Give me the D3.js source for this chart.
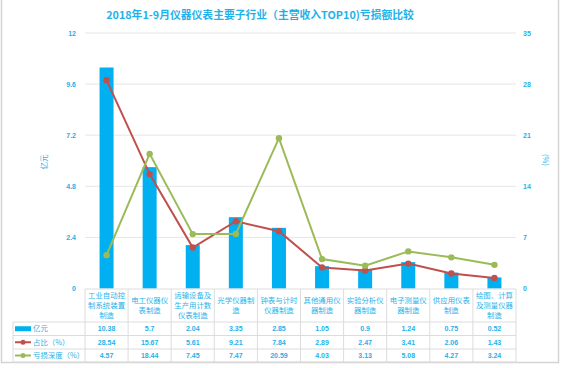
<!DOCTYPE html>
<html><head><meta charset="utf-8">
<script src="https://cdn.jsdelivr.net/npm/d3@7/dist/d3.min.js"></script>
<style>body{margin:0;background:#fff;}svg{display:block;font-family:"Noto Sans CJK SC","Noto Sans",sans-serif;}</style>
</head><body><svg id="c" width="562" height="368"></svg>
<script>
const title = "2018年1-9月仪器仪表主要子行业（主营收入TOP10)亏损额比较";
const categories = [
  ["工业自动控","制系统装置","制造"],
  ["电工仪器仪","表制造"],
  ["运输设备及","生产用计数","仪表制造"],
  ["光学仪器制","造"],
  ["钟表与计时","仪器制造"],
  ["其他通用仪","器制造"],
  ["实验分析仪","器制造"],
  ["电子测量仪","器制造"],
  ["供应用仪表","制造"],
  ["绘图、计算","及测量仪器","制造"]
];
const amount = [10.38, 5.7, 2.04, 3.35, 2.85, 1.05, 0.9, 1.24, 0.75, 0.52];
const share = [28.54, 15.67, 5.61, 9.21, 7.84, 2.89, 2.47, 3.41, 2.06, 1.43];
const depth = [4.57, 18.44, 7.45, 7.47, 20.59, 4.03, 3.13, 5.08, 4.27, 3.24];
const leftTicks = [0, 2.4, 4.8, 7.2, 9.6, 12];
const rightTicks = [0, 7, 14, 21, 28, 35];
const seriesNames = ["亿元", "占比（%）", "亏损深度（%）"];

const svg = d3.select("#c");
const blue = "#00b0f0", red = "#c0504d", green = "#9bbb59", txt = "#1fb2ea", grid = "#e6e6e6";

// frame
svg.append("rect").attr("x",1.5).attr("y",-4).attr("width",557).attr("height",366.5)
  .attr("fill","none").attr("stroke","#d4d4d4").attr("stroke-width",1.5);

const L = 85, R = 516, T = 33, B = 288.5;
const x = d3.scaleBand().domain(d3.range(categories.length)).range([L, R]);
const yL = d3.scaleLinear().domain([0, 12]).range([B, T]);
const yR = d3.scaleLinear().domain([0, 35]).range([B, T]);

svg.append("text").attr("x", 260).attr("y", 19).attr("text-anchor","middle")
  .attr("font-size", 10.8).attr("font-weight","bold").attr("fill", txt).text(title);

// grid
svg.append("g").selectAll("line").data(leftTicks.filter(d=>d>0)).join("line")
  .attr("x1", L).attr("x2", R).attr("y1", d=>yL(d)).attr("y2", d=>yL(d))
  .attr("stroke", grid).attr("stroke-width",1);

// axes
const axL = svg.append("g").attr("transform", `translate(${L-6},0)`)
  .call(d3.axisLeft(yL).tickValues(leftTicks).tickSize(0).tickPadding(3).tickFormat(d=>d));
axL.select(".domain").remove();
axL.selectAll("text").attr("fill", txt).attr("font-size", 7).attr("font-weight","bold").attr("font-family","Liberation Sans, sans-serif");
const axR = svg.append("g").attr("transform", `translate(${R+4},0)`)
  .call(d3.axisRight(yR).tickValues(rightTicks).tickSize(0).tickPadding(3).tickFormat(d=>d));
axR.select(".domain").remove();
axR.selectAll("text").attr("fill", txt).attr("font-size", 7).attr("font-weight","bold").attr("font-family","Liberation Sans, sans-serif");

svg.append("text").attr("transform","translate(47,162) rotate(-90)").attr("text-anchor","middle")
  .attr("fill", txt).attr("font-size", 7.5).text("亿元");
svg.append("text").attr("transform","translate(543,160) rotate(90)").attr("text-anchor","middle")
  .attr("fill", txt).attr("font-size", 7.5).text("(%)");

// bars
const bw = 14;
svg.append("g").selectAll("rect").data(amount).join("rect")
  .attr("x",(d,i)=>x(i)+x.bandwidth()/2-bw/2).attr("width",bw)
  .attr("y",d=>yL(d)).attr("height",d=>B-yL(d)).attr("fill",blue);

// lines
function drawLine(data, color){
  const line = d3.line().x((d,i)=>x(i)+x.bandwidth()/2).y(d=>yR(d));
  svg.append("path").datum(data).attr("d",line).attr("fill","none").attr("stroke",color).attr("stroke-width",2);
  svg.append("g").selectAll("circle").data(data).join("circle")
    .attr("cx",(d,i)=>x(i)+x.bandwidth()/2).attr("cy",d=>yR(d)).attr("r",3.2).attr("fill",color);
}
drawLine(share, red);
drawLine(depth, green);

// table
const tL = 13, rows = [289, 322, 335.5, 349, 362];
const tg = svg.append("g");
const tc = "#dcdcdc";
tg.append("line").attr("x1",L).attr("x2",R).attr("y1",rows[0]).attr("y2",rows[0]).attr("stroke",tc);
rows.slice(1).forEach(r=>tg.append("line").attr("x1",tL).attr("x2",R).attr("y1",r).attr("y2",r).attr("stroke",tc));
tg.append("line").attr("x1",tL).attr("x2",tL).attr("y1",rows[1]).attr("y2",rows[4]).attr("stroke",tc);
d3.range(categories.length+1).forEach(i=>{
  const xx = i<categories.length ? x(i) : R;
  tg.append("line").attr("x1",xx).attr("x2",xx).attr("y1",rows[0]).attr("y2",rows[4]).attr("stroke",tc);
});
categories.forEach((lines,i)=>{
  const cx = x(i)+x.bandwidth()/2;
  const mid = (rows[0]+rows[1])/2;
  lines.forEach((s,k)=>{
    tg.append("text").attr("x",cx).attr("y", mid + (k-(lines.length-1)/2)*10.3 + 2.6)
      .attr("text-anchor","middle").attr("font-size",7.4).attr("fill",txt).text(s);
  });
});
[amount, share, depth].forEach((arr,r)=>{
  const cy = (rows[r+1]+rows[r+2])/2 + 2.5;
  arr.forEach((v,i)=>{
    tg.append("text").attr("x",x(i)+x.bandwidth()/2).attr("y",cy).attr("text-anchor","middle")
      .attr("font-size",7).attr("font-weight","bold").attr("font-family","Liberation Sans, sans-serif")
      .attr("fill",txt).text(v);
  });
  const ly = (rows[r+1]+rows[r+2])/2;
  if(r===0){
    tg.append("rect").attr("x",15).attr("y",ly-2.5).attr("width",16).attr("height",5).attr("fill",blue);
  } else {
    const col = r===1 ? red : green;
    tg.append("line").attr("x1",15).attr("x2",31).attr("y1",ly).attr("y2",ly).attr("stroke",col).attr("stroke-width",2);
    tg.append("circle").attr("cx",23).attr("cy",ly).attr("r",2.5).attr("fill",col);
  }
  tg.append("text").attr("x",33).attr("y",ly+2.6).attr("font-size",7.4).attr("fill",txt).text(seriesNames[r]);
});
</script></body></html>
